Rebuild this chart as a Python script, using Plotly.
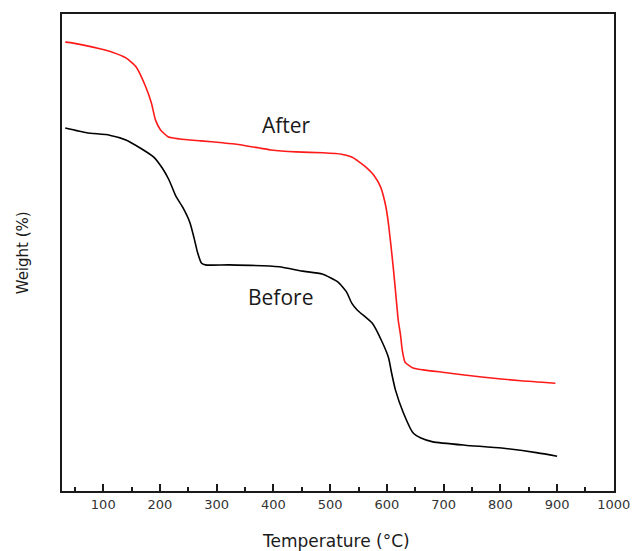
import plotly.graph_objects as go

# Temperature (°C) and relative weight (arbitrary %, no y ticks in reference)
after_T = [33, 47, 94, 116, 140, 158, 175, 185, 192, 201, 215, 235, 272, 310, 335, 375, 396, 440, 487, 520,
           538, 551, 565, 577, 589, 598, 603, 608, 612, 615, 620, 624, 627, 632, 646, 664, 698, 767, 836, 897]
after_w = [94.1, 93.9, 92.7, 92.0, 90.8, 88.9, 84.7, 81.3, 77.8, 75.7, 74.2, 73.8, 73.4, 73.0, 72.7, 71.9, 71.5, 71.1, 70.9, 70.6,
           70.0, 69.0, 67.7, 66.2, 63.7, 59.7, 55.8, 50.5, 45.9, 42.1, 35.8, 32.7, 29.6, 27.0, 25.8, 25.4, 24.9, 23.9, 23.1, 22.6]

before_T = [33, 71, 111, 140, 168, 189, 204, 216, 228, 240, 253, 261, 266, 273, 280, 322, 410, 451, 486, 514,
            529, 538, 548, 574, 591, 603, 608, 615, 629, 646, 660, 681, 738, 802, 866, 900]
before_w = [76.1, 75.1, 74.6, 73.6, 71.7, 70.0, 67.7, 65.2, 61.8, 59.5, 56.2, 52.6, 50.1, 47.8, 47.4, 47.4, 47.0, 46.1, 45.5, 43.8,
            41.7, 39.4, 37.9, 35.2, 31.4, 27.9, 24.9, 21.2, 16.4, 12.2, 11.1, 10.3, 9.6, 9.0, 8.0, 7.3]

labels = ["After", "Before"]
label_T = [423, 413]
label_w = [76.7, 40.7]

x_title = "Temperature (°C)"
y_title = "Weight (%)"

fig = go.Figure()
fig.add_trace(go.Scatter(x=after_T, y=after_w, mode="lines",
                         line=dict(color="#ff1a1a", width=1.6, shape="spline", smoothing=0.5),
                         showlegend=False, hoverinfo="skip"))
fig.add_trace(go.Scatter(x=before_T, y=before_w, mode="lines",
                         line=dict(color="#000000", width=1.6, shape="spline", smoothing=0.5),
                         showlegend=False, hoverinfo="skip"))

for t, x, y in zip(labels, label_T, label_w):
    fig.add_annotation(x=x, y=y, text=t, showarrow=False, xanchor="center", yanchor="middle",
                       font=dict(family="Open Sans, Liberation Sans", size=21, color="#1a1a1a"))

fig.add_annotation(xref="paper", yref="paper", x=0.497, y=-0.105, text=x_title, showarrow=False,
                   xanchor="center", yanchor="middle",
                   font=dict(family="DejaVu Sans", size=17, color="#1a1a1a"))
fig.add_annotation(xref="paper", yref="paper", x=-0.071, y=0.5, text=y_title, showarrow=False, textangle=-90,
                   xanchor="center", yanchor="middle",
                   font=dict(family="DejaVu Sans", size=15, color="#1a1a1a"))

fig.update_layout(
    width=642, height=551,
    margin=dict(l=62, r=17, t=14, b=60),
    paper_bgcolor="white", plot_bgcolor="white",
    xaxis=dict(range=[27.3, 1000.3], showgrid=False, zeroline=False,
               showline=True, linecolor="#1a1a1a", linewidth=2, mirror=True,
               tickmode="linear", tick0=0, dtick=100, ticks="inside", ticklen=7, tickwidth=1.5,
               tickcolor="#1a1a1a",
               minor=dict(ticks="inside", ticklen=4, tickwidth=1.5, dtick=50, tick0=0, tickcolor="#1a1a1a",
                          showgrid=False),
               tickfont=dict(family="DejaVu Sans", size=13, color="#333333")),
    yaxis=dict(range=[0, 100], showgrid=False, zeroline=False, showticklabels=False, ticks="",
               showline=True, linecolor="#1a1a1a", linewidth=2, mirror=True),
)

fig.write_html("out.html")
